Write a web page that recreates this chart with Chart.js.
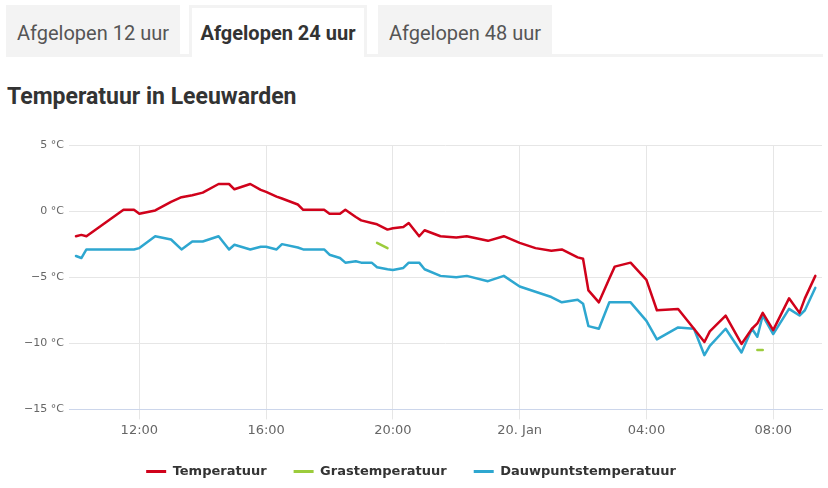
<!DOCTYPE html>
<html>
<head>
<meta charset="utf-8">
<script src="https://cdn.jsdelivr.net/npm/chart.js@4"></script>
<style>
  body { margin: 0; background: #fff; width: 828px; height: 488px; overflow: hidden; position: relative; font-family: Roboto, sans-serif; }
  .tab { position: absolute; top: 5px; height: 52px; line-height: 57px; box-sizing: border-box; background: #f3f3f3; color: #555; font-size: 20px; text-align: center; }
  .tab.active { background: #fff; border: 3px solid #f3f3f3; border-bottom: none; color: #333; font-weight: bold; line-height: 51px; z-index: 2; }
  #tabline { position: absolute; left: 6px; top: 54px; width: 817px; height: 3px; background: #f3f3f3; }
  h2 { position: absolute; left: 7px; top: 83px; margin: 0; font-size: 23px; font-weight: bold; color: #333; }
  #wrap { position: absolute; left: 0; top: 125px; width: 828px; height: 363px; }
</style>
</head>
<body>
<div id="tabline"></div>
<div class="tab" style="left:6px; width:174px;">Afgelopen 12 uur</div>
<div class="tab active" style="left:189px; width:178px;">Afgelopen 24 uur</div>
<div class="tab" style="left:378px; width:174px;">Afgelopen 48 uur</div>
<h2>Temperatuur in Leeuwarden</h2>
<div id="wrap"><canvas id="tempChart"></canvas></div>
<script>
// tijd in uren vanaf 19 jan 00:00
var times = [10.0, 10.17, 10.33, 11.5, 11.83, 12.0, 12.5, 13.0, 13.33, 13.67, 14.0, 14.5, 14.83, 15.0, 15.5, 15.83,
    16.0, 16.33, 16.5, 17.0, 17.17, 17.83, 18.0, 18.33, 18.5, 18.83, 19.0, 19.33, 19.5, 19.83, 20.0, 20.33, 20.5, 20.83,
    21.0, 21.5, 22.0, 22.33, 23.0, 23.5, 24.0, 24.5, 25.0, 25.33, 25.83, 26.0, 26.17, 26.5, 26.83, 27.0, 27.5, 28.0,
    28.33, 29.0, 29.5, 29.83, 30.0, 30.5, 31.0, 31.33, 31.5, 31.67, 32.0, 32.5, 32.83, 33.0, 33.33];

var temperatuur = [-1.9, -1.8, -1.9, 0.1, 0.1, -0.2, 0.05, 0.7, 1.05, 1.2, 1.4, 2.05, 2.05, 1.65, 2.05, 1.6,
    1.45, 1.1, 0.95, 0.5, 0.1, 0.1, -0.2, -0.2, 0.1, -0.45, -0.7, -0.9, -1.0, -1.4, -1.3, -1.2, -0.9, -1.9,
    -1.45, -1.9, -2.0, -1.9, -2.25, -1.9, -2.4, -2.8, -3.0, -2.9, -3.5, -3.6, -6.0, -6.9, -5.1, -4.2, -3.9, -5.2,
    -7.5, -7.4, -8.9, -9.9, -9.1, -7.9, -10.05, -8.9, -8.5, -7.7, -9.0, -6.6, -7.7, -6.6, -4.9];

var grastemperatuur = [null, null, null, null, null, null, null, null, null, null, null, null, null, null, null, null,
    null, null, null, null, null, null, null, null, null, null, null, null, -2.4, -2.8, null, null, null, null,
    null, null, null, null, null, null, null, null, null, null, null, null, null, null, null, null, null, null,
    null, null, null, null, null, null, null, null, -10.5, -10.5, null, null, null, null, null];

var dauwpunt = [-3.4, -3.55, -2.9, -2.9, -2.9, -2.8, -1.9, -2.15, -2.9, -2.3, -2.3, -1.9, -2.9, -2.55, -2.9, -2.7,
    -2.7, -2.9, -2.5, -2.75, -2.9, -2.9, -3.3, -3.55, -3.9, -3.8, -3.9, -3.9, -4.25, -4.4, -4.45, -4.3, -3.9, -3.9,
    -4.4, -4.9, -5.0, -4.9, -5.3, -4.9, -5.7, -6.1, -6.5, -6.9, -6.7, -7.0, -8.7, -8.9, -6.9, -6.9, -6.9, -8.3,
    -9.7, -8.8, -8.9, -10.9, -10.2, -8.9, -10.7, -8.9, -9.5, -7.9, -9.3, -7.4, -7.9, -7.5, -5.8];

var xTicks = [12, 16, 20, 24, 28, 32];
var xTickLabels = ['12:00', '16:00', '20:00', '20. Jan', '04:00', '08:00'];
var yTicks = [-15, -10, -5, 0, 5];
var yTickLabels = ['\u221215 \u00b0C', '\u221210 \u00b0C', '\u22125 \u00b0C', '0 \u00b0C', '5 \u00b0C'];

function punten(waarden) {
    return times.map(function (t, i) { return { x: t, y: waarden[i] }; });
}

function lijn(label, waarden, kleur) {
    return {
        label: label,
        data: punten(waarden),
        borderColor: kleur,
        backgroundColor: kleur,
        pointBorderColor: kleur,
        pointBackgroundColor: kleur,
        pointBorderWidth: 3
    };
}

var chartFont = 'DejaVu Sans, sans-serif';

var ctx = document.getElementById('tempChart').getContext('2d');
var tempChart = new Chart(ctx, {
    type: 'line',
    data: {
        datasets: [
            lijn('Temperatuur', temperatuur, '#d0021b'),
            lijn('Grastemperatuur', grastemperatuur, '#9ccc3c'),
            lijn('Dauwpuntstemperatuur', dauwpunt, '#2ea7d0')
        ]
    },
    options: {
        responsive: true,
        maintainAspectRatio: false,
        animation: false,
        layout: { padding: { left: 0, right: 6, top: 20, bottom: 0 } },
        elements: {
            point: { radius: 0 },
            line: { borderWidth: 2.5, tension: 0, spanGaps: false, borderJoinStyle: 'round', borderCapStyle: 'round' }
        },
        scales: {
            x: {
                type: 'linear',
                min: 9.78,
                max: 33.54,
                afterBuildTicks: function (scale) {
                    scale.ticks = xTicks.map(function (v) { return { value: v }; });
                },
                afterFit: function (scale) { scale.height -= 3; },
                ticks: {
                    color: '#666',
                    font: { family: chartFont, size: 13 },
                    padding: 3,
                    maxRotation: 0,
                    callback: function (v) { return xTickLabels[xTicks.indexOf(v)]; }
                },
                grid: { color: '#e6e6e6', tickColor: '#e6e6e6', tickLength: 10 },
                border: { color: '#ccd6eb', width: 1 }
            },
            y: {
                min: -15,
                max: 5,
                afterBuildTicks: function (scale) {
                    scale.ticks = yTicks.map(function (v) { return { value: v }; });
                },
                afterFit: function (scale) { scale.width = 69; },
                ticks: {
                    color: '#666',
                    font: { family: chartFont, size: 11 },
                    padding: 5,
                    callback: function (v) { return yTickLabels[yTicks.indexOf(v)]; }
                },
                grid: { color: '#e6e6e6', drawTicks: false },
                border: { display: false }
            }
        },
        plugins: {
            legend: {
                position: 'bottom',
                labels: {
                    usePointStyle: true,
                    pointStyle: 'line',
                    pointStyleWidth: 20,
                    color: '#333',
                    font: { family: chartFont, size: 13, weight: 'bold' },
                    padding: 27
                }
            },
            tooltip: { enabled: false }
        }
    }
});
</script>
</body>
</html>
